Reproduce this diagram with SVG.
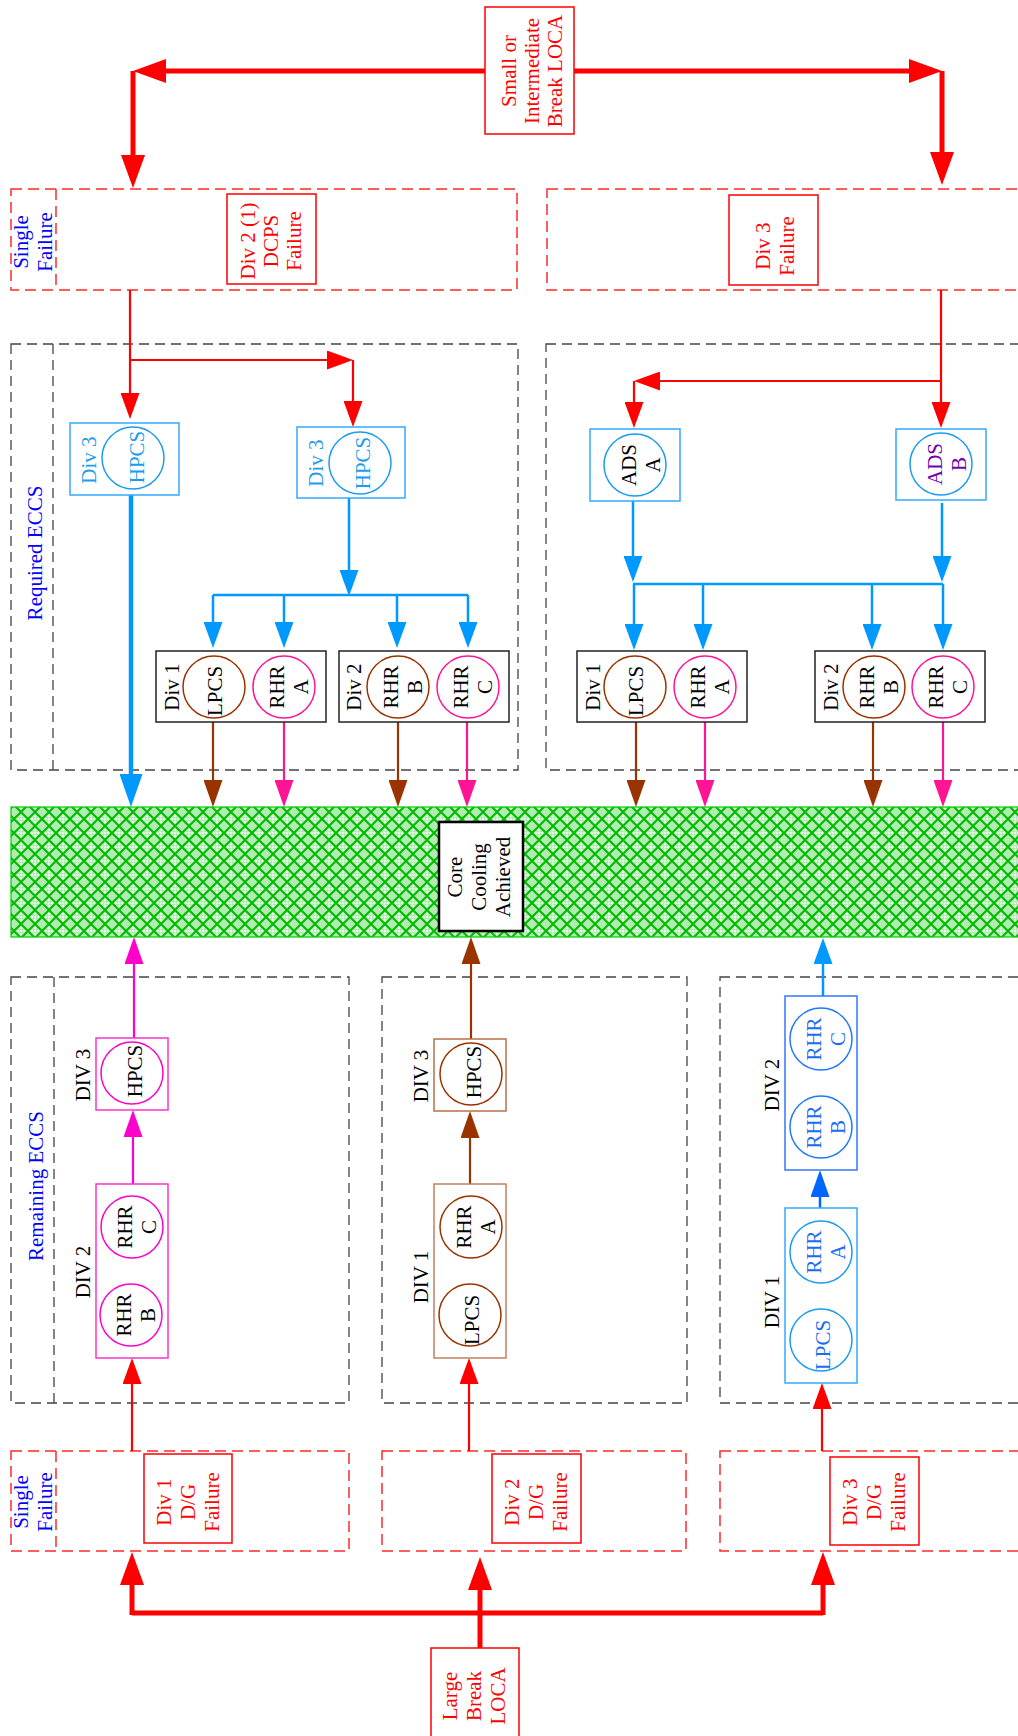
<svg xmlns="http://www.w3.org/2000/svg" width="1018" height="1736" viewBox="0 0 1018 1736">
<style>
text{font-family:"Liberation Serif","Times New Roman",serif;font-size:21px;text-anchor:middle}
.red{fill:#ff0000}.blue{fill:#0000ff}.lb{fill:#1a9cf0}.blk{fill:#000}.pur{fill:#7300b0}.db{fill:#1a6cf5}
.bx{fill:#fff;stroke-width:1.5}
.circ{fill:none;stroke-width:1.5}
.dashk{fill:none;stroke:#444;stroke-width:1.3;stroke-dasharray:10 6}
.dashr{fill:none;stroke:#ff2a2a;stroke-width:1.5;stroke-dasharray:11 6}
</style>
<defs>
<pattern id="hatch" width="14" height="14" patternUnits="userSpaceOnUse">
<rect width="14" height="14" fill="#b2ecb2"/>
<circle cx="7" cy="4" r="1.1" fill="#f0fff0"/><circle cx="7" cy="10" r="1.1" fill="#f0fff0"/><circle cx="4" cy="7" r="1.1" fill="#f0fff0"/><circle cx="10" cy="7" r="1.1" fill="#f0fff0"/><circle cx="7" cy="7" r="1.1" fill="#f0fff0"/>
<path d="M0,7 L7,0 L14,7 L7,14 Z" fill="none" stroke="#00bb00" stroke-width="2"/>
</pattern>
<marker id="rB" markerUnits="userSpaceOnUse" markerWidth="33" markerHeight="24" viewBox="0 0 33 24" refX="0" refY="12" orient="auto"><path d="M0,0 L33,12 L0,24 z" fill="#ff0000"/></marker>
<marker id="rM" markerUnits="userSpaceOnUse" markerWidth="26" markerHeight="19" viewBox="0 0 26 19" refX="0" refY="9.5" orient="auto"><path d="M0,0 L26,9.5 L0,19 z" fill="#ff0000"/></marker>
<marker id="bB" markerUnits="userSpaceOnUse" markerWidth="33" markerHeight="23" viewBox="0 0 33 23" refX="0" refY="11.5" orient="auto"><path d="M0,0 L33,11.5 L0,23 z" fill="#0099ff"/></marker>
<marker id="bM" markerUnits="userSpaceOnUse" markerWidth="26" markerHeight="19" viewBox="0 0 26 19" refX="0" refY="9.5" orient="auto"><path d="M0,0 L26,9.5 L0,19 z" fill="#0099ff"/></marker>
<marker id="dbM" markerUnits="userSpaceOnUse" markerWidth="27" markerHeight="19" viewBox="0 0 27 19" refX="0" refY="9.5" orient="auto"><path d="M0,0 L27,9.5 L0,19 z" fill="#0066ff"/></marker>
<marker id="brM" markerUnits="userSpaceOnUse" markerWidth="27" markerHeight="19" viewBox="0 0 27 19" refX="0" refY="9.5" orient="auto"><path d="M0,0 L27,9.5 L0,19 z" fill="#993300"/></marker>
<marker id="pkM" markerUnits="userSpaceOnUse" markerWidth="27" markerHeight="19" viewBox="0 0 27 19" refX="0" refY="9.5" orient="auto"><path d="M0,0 L27,9.5 L0,19 z" fill="#ff1493"/></marker>
<marker id="mgM" markerUnits="userSpaceOnUse" markerWidth="27" markerHeight="19" viewBox="0 0 27 19" refX="0" refY="9.5" orient="auto"><path d="M0,0 L27,9.5 L0,19 z" fill="#ff00cc"/></marker>
</defs>

<!-- region frames -->
<g id="frames">
<rect class="dashr" x="11" y="189" width="506" height="101"/><line class="dashr" x1="56" y1="189" x2="56" y2="290"/>
<rect class="dashr" x="547" y="189" width="490" height="101"/>
<rect class="dashk" x="11" y="344" width="507" height="426"/><line class="dashk" x1="53" y1="344" x2="53" y2="770"/>
<rect class="dashk" x="546" y="344" width="490" height="426"/>
<rect class="dashk" x="11" y="977" width="338" height="426"/><line class="dashk" x1="54" y1="977" x2="54" y2="1403"/>
<rect class="dashk" x="382" y="977" width="305" height="426"/>
<rect class="dashk" x="720" y="977" width="320" height="426"/>
<rect class="dashr" x="11" y="1451" width="338" height="100"/><line class="dashr" x1="56" y1="1451" x2="56" y2="1551"/>
<rect class="dashr" x="382" y="1451" width="304" height="100"/>
<rect class="dashr" x="720" y="1451" width="320" height="100"/>
<text class="blue" transform="translate(33,242) rotate(-90)"><tspan x="0" y="-5">Single</tspan><tspan x="0" y="19">Failure</tspan></text>
<text class="blue" transform="translate(35,553) rotate(-90)" y="7">Required ECCS</text>
<text class="blue" transform="translate(36,1186) rotate(-90)" y="7">Remaining ECCS</text>
<text class="blue" transform="translate(33,1502) rotate(-90)"><tspan x="0" y="-5">Single</tspan><tspan x="0" y="19">Failure</tspan></text>
</g>

<!-- connectors -->
<g id="connectors" fill="none" stroke-linejoin="miter">
<path d="M485,71 H166" stroke="#ff0000" stroke-width="5" marker-end="url(#rB)"/>
<path d="M133,71 V155" stroke="#ff0000" stroke-width="5" marker-end="url(#rB)"/>
<path d="M574,71 H909" stroke="#ff0000" stroke-width="5" marker-end="url(#rB)"/>
<path d="M942,71 V152" stroke="#ff0000" stroke-width="5" marker-end="url(#rB)"/>
<path d="M130,290 V393" stroke="#ff0000" stroke-width="2.2" marker-end="url(#rM)"/>
<path d="M130,360 H327" stroke="#ff0000" stroke-width="2.2" marker-end="url(#rM)"/>
<path d="M353,360 V401" stroke="#ff0000" stroke-width="2.2" marker-end="url(#rM)"/>
<path d="M941,290 V402" stroke="#ff0000" stroke-width="2.2" marker-end="url(#rM)"/>
<path d="M941,381 H660" stroke="#ff0000" stroke-width="2.2" marker-end="url(#rM)"/>
<path d="M634,381 V402" stroke="#ff0000" stroke-width="2.2" marker-end="url(#rM)"/>
<path d="M131,495 V774" stroke="#0099ff" stroke-width="4.5" marker-end="url(#bB)"/>
<path d="M349,498 V570" stroke="#0099ff" stroke-width="2.5" marker-end="url(#bM)"/>
<path d="M213,595 H468" stroke="#0099ff" stroke-width="2.5"/>
<path d="M213,595 V622" stroke="#0099ff" stroke-width="2.5" marker-end="url(#bM)"/>
<path d="M284,595 V622" stroke="#0099ff" stroke-width="2.5" marker-end="url(#bM)"/>
<path d="M397,595 V622" stroke="#0099ff" stroke-width="2.5" marker-end="url(#bM)"/>
<path d="M468,595 V622" stroke="#0099ff" stroke-width="2.5" marker-end="url(#bM)"/>
<path d="M633,501 V556" stroke="#0099ff" stroke-width="2.5" marker-end="url(#bM)"/>
<path d="M942,503 V556" stroke="#0099ff" stroke-width="2.5" marker-end="url(#bM)"/>
<path d="M633,584 H943" stroke="#0099ff" stroke-width="2.5"/>
<path d="M634,584 V624" stroke="#0099ff" stroke-width="2.5" marker-end="url(#bM)"/>
<path d="M703,584 V624" stroke="#0099ff" stroke-width="2.5" marker-end="url(#bM)"/>
<path d="M872,584 V624" stroke="#0099ff" stroke-width="2.5" marker-end="url(#bM)"/>
<path d="M943,584 V624" stroke="#0099ff" stroke-width="2.5" marker-end="url(#bM)"/>
<path d="M213,722 V780" stroke="#993300" stroke-width="2.2" marker-end="url(#brM)"/>
<path d="M284,722 V780" stroke="#ff1493" stroke-width="2.2" marker-end="url(#pkM)"/>
<path d="M398,722 V780" stroke="#993300" stroke-width="2.2" marker-end="url(#brM)"/>
<path d="M467,722 V780" stroke="#ff1493" stroke-width="2.2" marker-end="url(#pkM)"/>
<path d="M636,722 V780" stroke="#993300" stroke-width="2.2" marker-end="url(#brM)"/>
<path d="M705,722 V780" stroke="#ff1493" stroke-width="2.2" marker-end="url(#pkM)"/>
<path d="M873,722 V780" stroke="#993300" stroke-width="2.2" marker-end="url(#brM)"/>
<path d="M943,722 V780" stroke="#ff1493" stroke-width="2.2" marker-end="url(#pkM)"/>
<path d="M134,1038 V964" stroke="#ff00cc" stroke-width="2.2" marker-end="url(#mgM)"/>
<path d="M471,1039 V964" stroke="#993300" stroke-width="2.2" marker-end="url(#brM)"/>
<path d="M823,996 V964" stroke="#0099ff" stroke-width="2.5" marker-end="url(#bM)"/>
<path d="M133,1184 V1137" stroke="#ff00cc" stroke-width="2.2" marker-end="url(#mgM)"/>
<path d="M470,1184 V1138" stroke="#993300" stroke-width="2.2" marker-end="url(#brM)"/>
<path d="M820,1208 V1197" stroke="#0066ff" stroke-width="2.5" marker-end="url(#dbM)"/>
<path d="M132,1451 V1384" stroke="#ff0000" stroke-width="2.2" marker-end="url(#rM)"/>
<path d="M469,1451 V1384" stroke="#ff0000" stroke-width="2.2" marker-end="url(#rM)"/>
<path d="M822,1451 V1409" stroke="#ff0000" stroke-width="2.2" marker-end="url(#rM)"/>
<path d="M132,1613 H823" stroke="#ff0000" stroke-width="5"/>
<path d="M480,1648 V1590" stroke="#ff0000" stroke-width="5" marker-end="url(#rB)"/>
<path d="M132,1615 V1585" stroke="#ff0000" stroke-width="5" marker-end="url(#rB)"/>
<path d="M823,1615 V1585" stroke="#ff0000" stroke-width="5" marker-end="url(#rB)"/>
</g>

<!-- initiating events and failures -->
<g id="small-loca"><rect class="bx" x="485" y="7" width="89" height="127" stroke="#ff0000"/>
<text class="red" transform="translate(532,71) rotate(-90)"><tspan x="0" y="-16">Small or</tspan><tspan x="0" y="7">Intermediate</tspan><tspan x="0" y="30">Break LOCA</tspan></text></g>
<g id="div2-dcps"><rect class="bx" x="227" y="194" width="89" height="90" stroke="#ff0000"/>
<text class="red" transform="translate(271,241) rotate(-90)"><tspan x="0" y="-16">Div 2 (1)</tspan><tspan x="0" y="7">DCPS</tspan><tspan x="0" y="30">Failure</tspan></text></g>
<g id="div3-fail"><rect class="bx" x="729" y="195" width="89" height="90" stroke="#ff0000"/>
<text class="red" transform="translate(775,246) rotate(-90)"><tspan x="0" y="-5">Div 3</tspan><tspan x="0" y="19">Failure</tspan></text></g>
<g id="div1-dg"><rect class="bx" x="144" y="1454" width="88" height="89" stroke="#ff0000"/>
<text class="red" transform="translate(188,1502) rotate(-90)"><tspan x="0" y="-17">Div 1</tspan><tspan x="0" y="7">D/G</tspan><tspan x="0" y="31">Failure</tspan></text></g>
<g id="div2-dg"><rect class="bx" x="492" y="1454" width="89" height="89" stroke="#ff0000"/>
<text class="red" transform="translate(536,1502) rotate(-90)"><tspan x="0" y="-17">Div 2</tspan><tspan x="0" y="7">D/G</tspan><tspan x="0" y="31">Failure</tspan></text></g>
<g id="div3-dg"><rect class="bx" x="830" y="1457" width="89" height="88" stroke="#ff0000"/>
<text class="red" transform="translate(874,1502) rotate(-90)"><tspan x="0" y="-17">Div 3</tspan><tspan x="0" y="7">D/G</tspan><tspan x="0" y="31">Failure</tspan></text></g>
<g id="large-loca"><rect class="bx" x="431" y="1648" width="88" height="100" stroke="#ff0000"/>
<text class="red" transform="translate(474,1696) rotate(-90)"><tspan x="0" y="-17">Large</tspan><tspan x="0" y="7">Break</tspan><tspan x="0" y="31">LOCA</tspan></text></g>

<!-- required ECCS -->
<g id="req-hpcs-1"><rect class="bx" x="70" y="423" width="109" height="72" stroke="#33aaff"/><circle class="circ" cx="133" cy="458" r="31" stroke="#1a9cf0"/>
<text class="lb" transform="translate(89,460) rotate(-90)" y="7">Div 3</text><text class="lb" transform="translate(137,457) rotate(-90)" y="7">HPCS</text></g>
<g id="req-hpcs-2"><rect class="bx" x="297" y="427" width="108" height="71" stroke="#33aaff"/><circle class="circ" cx="360" cy="463" r="31" stroke="#1a9cf0"/>
<text class="lb" transform="translate(316,463) rotate(-90)" y="7">Div 3</text><text class="lb" transform="translate(363,463) rotate(-90)" y="7">HPCS</text></g>
<g id="req-div1-l"><rect class="bx" x="156" y="651" width="170" height="71" stroke="#222"/>
<circle class="circ" cx="214" cy="687" r="31" stroke="#993300"/><circle class="circ" cx="284" cy="687" r="31" stroke="#ff1493"/>
<text class="blk" transform="translate(172,687) rotate(-90)" y="7">Div 1</text>
<text class="blk" transform="translate(215,691) rotate(-90)" y="7">LPCS</text>
<text class="blk" transform="translate(289,687) rotate(-90)"><tspan x="0" y="-5">RHR</tspan><tspan x="0" y="19">A</tspan></text></g>
<g id="req-div2-l"><rect class="bx" x="339" y="651" width="170" height="71" stroke="#222"/>
<circle class="circ" cx="398" cy="687" r="31" stroke="#993300"/><circle class="circ" cx="468" cy="687" r="31" stroke="#ff1493"/>
<text class="blk" transform="translate(354,687) rotate(-90)" y="7">Div 2</text>
<text class="blk" transform="translate(403,687) rotate(-90)"><tspan x="0" y="-5">RHR</tspan><tspan x="0" y="19">B</tspan></text>
<text class="blk" transform="translate(473,687) rotate(-90)"><tspan x="0" y="-5">RHR</tspan><tspan x="0" y="19">C</tspan></text></g>
<g id="req-ads-a"><rect class="bx" x="590" y="429" width="90" height="72" stroke="#33aaff"/><circle class="circ" cx="635" cy="465" r="31" stroke="#1a9cf0"/>
<text class="blk" transform="translate(641,465) rotate(-90)"><tspan x="0" y="-5">ADS</tspan><tspan x="0" y="19">A</tspan></text></g>
<g id="req-ads-b"><rect class="bx" x="896" y="429" width="90" height="71" stroke="#33aaff"/><circle class="circ" cx="941" cy="464" r="31" stroke="#1a9cf0"/>
<text class="pur" transform="translate(947,464) rotate(-90)"><tspan x="0" y="-5">ADS</tspan><tspan x="0" y="19">B</tspan></text></g>
<g id="req-div1-r"><rect class="bx" x="577" y="651" width="170" height="71" stroke="#222"/>
<circle class="circ" cx="635" cy="687" r="31" stroke="#993300"/><circle class="circ" cx="705" cy="687" r="31" stroke="#ff1493"/>
<text class="blk" transform="translate(593,687) rotate(-90)" y="7">Div 1</text>
<text class="blk" transform="translate(636,691) rotate(-90)" y="7">LPCS</text>
<text class="blk" transform="translate(710,687) rotate(-90)"><tspan x="0" y="-5">RHR</tspan><tspan x="0" y="19">A</tspan></text></g>
<g id="req-div2-r"><rect class="bx" x="815" y="651" width="170" height="71" stroke="#222"/>
<circle class="circ" cx="874" cy="687" r="31" stroke="#993300"/><circle class="circ" cx="943" cy="687" r="31" stroke="#ff1493"/>
<text class="blk" transform="translate(831,687) rotate(-90)" y="7">Div 2</text>
<text class="blk" transform="translate(879,687) rotate(-90)"><tspan x="0" y="-5">RHR</tspan><tspan x="0" y="19">B</tspan></text>
<text class="blk" transform="translate(948,687) rotate(-90)"><tspan x="0" y="-5">RHR</tspan><tspan x="0" y="19">C</tspan></text></g>

<!-- core cooling -->
<g id="core-cooling"><rect x="11" y="807" width="1030" height="130" fill="url(#hatch)" stroke="#00cc00" stroke-width="1.2"/>
<rect x="439" y="822" width="84" height="109" fill="#fff" stroke="#000" stroke-width="2.5"/>
<text class="blk" transform="translate(479,877) rotate(-90)"><tspan x="0" y="-17">Core</tspan><tspan x="0" y="7">Cooling</tspan><tspan x="0" y="31">Achieved</tspan></text></g>

<!-- remaining ECCS -->
<g id="rem-div3-l"><rect class="bx" x="96" y="1038" width="72" height="72" stroke="#ff33cc"/><circle class="circ" cx="132" cy="1073" r="31" stroke="#ff00cc"/>
<text class="blk" transform="translate(83,1075) rotate(-90)" y="7">DIV 3</text><text class="blk" transform="translate(135,1071) rotate(-90)" y="7">HPCS</text></g>
<g id="rem-div2-l"><rect class="bx" x="96" y="1184" width="72" height="174" stroke="#ff33cc"/>
<circle class="circ" cx="132" cy="1227" r="31" stroke="#ff00cc"/><circle class="circ" cx="131" cy="1315" r="31" stroke="#ff00cc"/>
<text class="blk" transform="translate(83,1272) rotate(-90)" y="7">DIV 2</text>
<text class="blk" transform="translate(137,1227) rotate(-90)"><tspan x="0" y="-5">RHR</tspan><tspan x="0" y="19">C</tspan></text>
<text class="blk" transform="translate(136,1315) rotate(-90)"><tspan x="0" y="-5">RHR</tspan><tspan x="0" y="19">B</tspan></text></g>
<g id="rem-div3-m"><rect class="bx" x="434" y="1039" width="72" height="72" stroke="#b8704a"/><circle class="circ" cx="471" cy="1074" r="31" stroke="#993300"/>
<text class="blk" transform="translate(421,1076) rotate(-90)" y="7">DIV 3</text><text class="blk" transform="translate(474,1072) rotate(-90)" y="7">HPCS</text></g>
<g id="rem-div1-m"><rect class="bx" x="434" y="1184" width="72" height="174" stroke="#c08060"/>
<circle class="circ" cx="471" cy="1227" r="31" stroke="#993300"/><circle class="circ" cx="470" cy="1315" r="31" stroke="#993300"/>
<text class="blk" transform="translate(421,1277) rotate(-90)" y="7">DIV 1</text>
<text class="blk" transform="translate(476,1227) rotate(-90)"><tspan x="0" y="-5">RHR</tspan><tspan x="0" y="19">A</tspan></text>
<text class="blk" transform="translate(472,1320) rotate(-90)" y="7">LPCS</text></g>
<g id="rem-div2-r"><rect class="bx" x="785" y="996" width="72" height="174" stroke="#3377ff"/>
<circle class="circ" cx="821" cy="1039" r="31" stroke="#2277ff"/><circle class="circ" cx="821" cy="1127" r="31" stroke="#2277ff"/>
<text class="blk" transform="translate(772,1085) rotate(-90)" y="7">DIV 2</text>
<text class="db" transform="translate(826,1039) rotate(-90)"><tspan x="0" y="-5">RHR</tspan><tspan x="0" y="19">C</tspan></text>
<text class="db" transform="translate(826,1127) rotate(-90)"><tspan x="0" y="-5">RHR</tspan><tspan x="0" y="19">B</tspan></text></g>
<g id="rem-div1-r"><rect class="bx" x="785" y="1208" width="72" height="175" stroke="#33aaff"/>
<circle class="circ" cx="821" cy="1252" r="31" stroke="#1a9cf0"/><circle class="circ" cx="821" cy="1340" r="31" stroke="#1a9cf0"/>
<text class="blk" transform="translate(772,1302) rotate(-90)" y="7">DIV 1</text>
<text class="db" transform="translate(826,1252) rotate(-90)"><tspan x="0" y="-5">RHR</tspan><tspan x="0" y="19">A</tspan></text>
<text class="db" transform="translate(823,1345) rotate(-90)" y="7">LPCS</text></g>
</svg>
